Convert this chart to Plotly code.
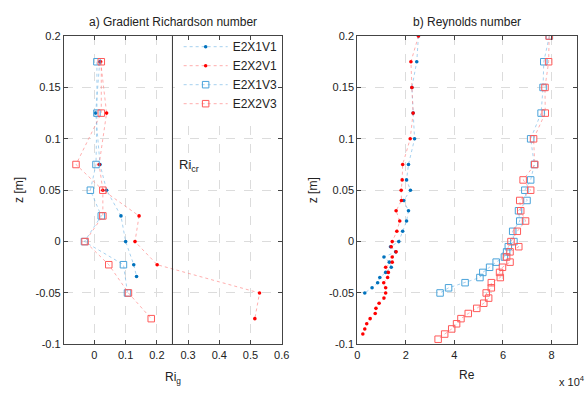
import plotly.graph_objects as go

# ---------------- data ----------------
# a) Gradient Richardson number
z_ri_x1v1 = [0.175, 0.125, 0.075, 0.05, 0.025, 0.0, -0.0225, -0.034]
ri_x1v1 = [0.017, 0.004, 0.018, 0.039, 0.085, 0.100, 0.126, 0.135]

z_ri_x2v1 = [0.175, 0.125, 0.075, 0.05, 0.025, 0.0, -0.0225, -0.05, -0.075]
ri_x2v1 = [0.020, 0.039, 0.015, 0.027, 0.143, 0.130, 0.201, 0.529, 0.514]

z_ri_x1v3 = [0.175, 0.125, 0.075, 0.05, 0.025, 0.0, -0.0225, -0.05]
ri_x1v3 = [0.008, 0.008, 0.005, -0.013, 0.022, -0.032, 0.093, 0.106]

z_ri_x2v3 = [0.175, 0.125, 0.075, 0.05, 0.025, 0.0, -0.0225, -0.05, -0.075]
ri_x2v3 = [0.022, 0.022, -0.059, 0.027, 0.027, -0.030, 0.046, 0.109, 0.182]

ri_cr = 0.25

# b) Reynolds number (values in units of 1e4)
z_re_v1 = [0.2, 0.175, 0.15, 0.125, 0.1, 0.075, 0.06, 0.05, 0.04, 0.03, 0.02, 0.01, 0.0,
           -0.005, -0.01, -0.015, -0.02, -0.025, -0.03, -0.035, -0.04, -0.045, -0.05]
re_x1v1 = [2.52, 2.45, 2.25, 2.30, 2.36, 2.11, 2.03, 2.19, 1.91, 2.11, 2.03, 1.87, 1.71,
           1.37, 1.58, 1.10, 1.32, 1.40, 1.17, 0.93, 0.84, 0.61, 0.31]

z_re_x2v1 = [0.2, 0.175, 0.15, 0.125, 0.1, 0.075, 0.06, 0.05, 0.04, 0.03, 0.02, 0.01, 0.0,
             -0.005, -0.01, -0.015, -0.02, -0.025, -0.03, -0.035, -0.04, -0.045, -0.05,
             -0.055, -0.06, -0.065, -0.07, -0.075, -0.08, -0.085, -0.09]
re_x2v1 = [2.52, 2.21, 2.25, 2.30, 2.18, 1.87, 1.85, 1.81, 1.82, 1.60, 1.75, 1.63, 1.44,
           1.40, 1.60, 1.44, 1.44, 1.17, 1.28, 1.25, 1.09, 1.17, 1.17,
           1.10, 0.90, 0.77, 0.74, 0.53, 0.39, 0.31, 0.23]

z_re_x1v3 = z_re_v1
re_x1v3 = [7.91, 7.68, 7.65, 7.57, 7.14, 7.29, 7.14, 6.90, 6.99, 6.64, 6.69, 6.40, 6.45,
           6.22, 6.15, 6.06, 5.72, 5.45, 5.17, 5.05, 4.44, 3.76, 3.41]

z_re_x2v3 = [0.2, 0.175, 0.15, 0.125, 0.1, 0.075, 0.06, 0.05, 0.04, 0.03, 0.02, 0.01, 0.0,
             -0.005, -0.01, -0.015, -0.02, -0.025, -0.03, -0.035, -0.04, -0.045, -0.05,
             -0.055, -0.06, -0.065, -0.07, -0.075, -0.08, -0.085, -0.09, -0.095]
re_x2v3 = [7.90, 7.88, 7.73, 7.74, 7.26, 7.31, 6.83, 7.14, 6.69, 6.73, 6.93, 6.59, 6.33,
           6.65, 6.29, 6.15, 6.29, 5.98, 5.86, 5.89, 5.52, 5.52, 5.31,
           5.41, 5.21, 4.92, 4.57, 4.27, 4.09, 3.89, 3.60, 3.33]

z_ticks = [0.2, 0.15, 0.1, 0.05, 0, -0.05, -0.1]
z_ticktext = ["0.2", "0.15", "0.1", "0.05", "0", "-0.05", "-0.1"]
ri_ticks = [0, 0.1, 0.2, 0.3, 0.4, 0.5, 0.6]
ri_ticktext = ["0", "0.1", "0.2", "0.3", "0.4", "0.5", "0.6"]
re_ticks = [0, 2, 4, 6, 8]
re_ticktext = ["0", "2", "4", "6", "8"]

series_names = ["E2X1V1", "E2X2V1", "E2X1V3", "E2X2V3"]

# ---------------- styles ----------------
FONT = "Liberation Sans, Arial, sans-serif"
BLUE_DOT = "#0072BD"
RED_DOT = "#FF0000"
BLUE_SQ = "#4AA3DA"
RED_SQ = "#FF5A5A"
BLUE_LINE = "rgba(120,185,230,0.65)"
RED_LINE = "rgba(255,130,130,0.65)"

styles = {
    "E2X1V1": dict(line=dict(color=BLUE_LINE, width=1, dash="dot"),
                   marker=dict(symbol="circle", size=3.6, color=BLUE_DOT)),
    "E2X2V1": dict(line=dict(color=RED_LINE, width=1, dash="dot"),
                   marker=dict(symbol="circle", size=3.6, color=RED_DOT)),
    "E2X1V3": dict(line=dict(color=BLUE_LINE, width=1, dash="dot"),
                   marker=dict(symbol="square-open", size=6.5, color=BLUE_SQ, line=dict(width=1))),
    "E2X2V3": dict(line=dict(color=RED_LINE, width=1, dash="dot"),
                   marker=dict(symbol="square-open", size=6.5, color=RED_SQ, line=dict(width=1))),
}

fig = go.Figure()

left = [(ri_x1v1, z_ri_x1v1), (ri_x2v1, z_ri_x2v1), (ri_x1v3, z_ri_x1v3), (ri_x2v3, z_ri_x2v3)]
right = [(re_x1v1, z_re_v1), (re_x2v1, z_re_x2v1), (re_x1v3, z_re_x1v3), (re_x2v3, z_re_x2v3)]

for name, (x, y) in zip(series_names, left):
    fig.add_trace(go.Scatter(x=x, y=y, mode="lines+markers", name=name,
                             xaxis="x", yaxis="y", showlegend=True, **styles[name]))
for name, (x, y) in zip(series_names, right):
    fig.add_trace(go.Scatter(x=x, y=y, mode="lines+markers", name=name,
                             xaxis="x2", yaxis="y2", showlegend=False, **styles[name]))

# critical Richardson line
fig.add_trace(go.Scatter(x=[ri_cr, ri_cr], y=[-0.1, 0.2], mode="lines",
                         line=dict(color="#333333", width=1), showlegend=False,
                         hoverinfo="skip", xaxis="x", yaxis="y"))

W, H = 588, 393
xd1 = [62 / W, 284 / W]
xd2 = [361 / W, 585 / W]
yd = [1 - 349 / H, 1 - 31 / H]

axis_common = dict(showline=True, linecolor="#444444", linewidth=1, mirror="ticks",
                   ticks="inside", ticklen=4, tickcolor="#444444",
                   showgrid=True, gridcolor="#dcdcdc", griddash="dash", gridwidth=1,
                   zeroline=False, tickfont=dict(family=FONT, size=11, color="#222222"))

fig.update_layout(
    width=W, height=H,
    margin=dict(l=0, r=0, t=0, b=0),
    paper_bgcolor="white", plot_bgcolor="white",
    font=dict(family=FONT, size=11, color="#222222"),
    xaxis=dict(domain=xd1, range=[-0.098, 0.6], tickvals=ri_ticks, ticktext=ri_ticktext,
               anchor="y", **axis_common),
    yaxis=dict(domain=yd, range=[-0.1, 0.2], tickvals=z_ticks, ticktext=z_ticktext,
               anchor="x", **axis_common),
    xaxis2=dict(domain=xd2, range=[0, 9.05], tickvals=re_ticks, ticktext=re_ticktext,
                anchor="y2", **axis_common),
    yaxis2=dict(domain=yd, range=[-0.1, 0.2], tickvals=z_ticks, ticktext=z_ticktext,
                anchor="x2", **axis_common),
    legend=dict(x=179 / W, y=1 - 27 / H, xanchor="left", yanchor="top",
                bgcolor="rgba(0,0,0,0)", borderwidth=0, itemwidth=44,
                font=dict(family=FONT, size=12, color="#222222"),
                tracegroupgap=0),
    showlegend=True,
)

# white legend backdrop that hides the grid (drawn between grid and traces)
fig.add_shape(type="rect", xref="x", yref="y", x0=0.258, x1=0.6, y0=0.118, y1=0.2,
              fillcolor="white", line=dict(width=0), layer="between")

ann = [
    dict(text="a) Gradient Richardson number", x=(xd1[0] + xd1[1]) / 2, y=1 - 17 / H),
    dict(text="b) Reynolds number", x=(xd2[0] + xd2[1]) / 2, y=1 - 17 / H),
    dict(text="Ri<sub>g</sub>", x=(xd1[0] + xd1[1]) / 2, y=1 - 384 / H),
    dict(text="Re", x=(xd2[0] + xd2[1]) / 2, y=1 - 381 / H),
    dict(text="z [m]", x=17 / W, y=(yd[0] + yd[1]) / 2, textangle=-90),
    dict(text="z [m]", x=316 / W, y=(yd[0] + yd[1]) / 2, textangle=-90),
]
for a in ann:
    fig.add_annotation(xref="paper", yref="paper", showarrow=False, xanchor="center",
                       yanchor="middle", font=dict(size=12), **a)

fig.add_annotation(text="x 10<sup>4</sup>", x=595 / W, y=1 - 387 / H, xanchor="right",
                   yanchor="middle", xref="paper", yref="paper", showarrow=False,
                   font=dict(size=11))
fig.add_annotation(text="Ri<sub>cr</sub>", x=0.265, y=0.074, xref="x", yref="y",
                   xanchor="left", yanchor="middle", showarrow=False, font=dict(size=13))

fig.write_html("out.html")
